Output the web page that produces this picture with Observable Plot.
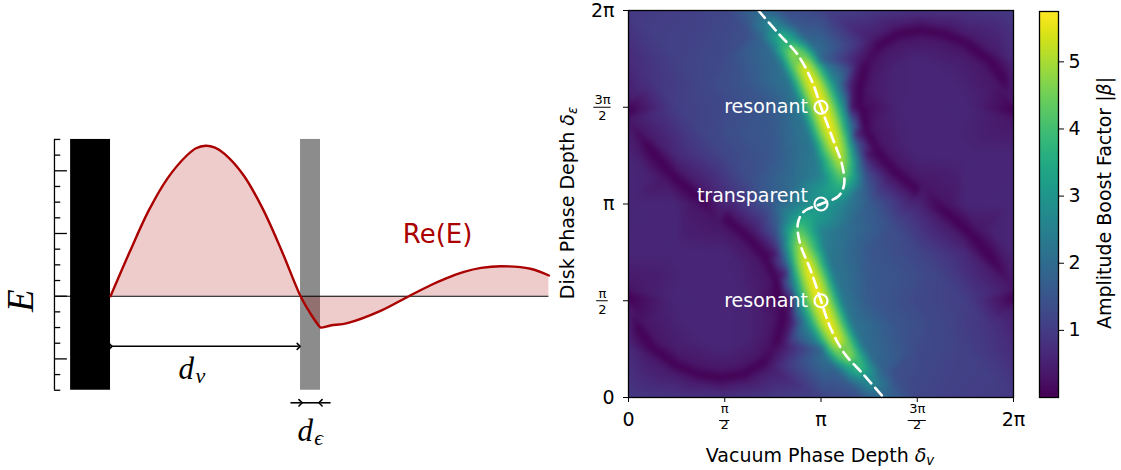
<!DOCTYPE html>
<html><head><meta charset="utf-8">
<script src="https://cdn.jsdelivr.net/npm/d3@7"></script>
<script src="https://cdn.jsdelivr.net/npm/@observablehq/plot@0.6"></script>
<style>
html,body{margin:0;padding:0;background:#fff;}
body{width:1121px;height:470px;position:relative;overflow:hidden;font-family:"DejaVu Sans",sans-serif;}
.abs{position:absolute;left:0;top:0;}
.lbl{position:absolute;font-size:19px;line-height:1;white-space:nowrap;color:#000;transform:translate(-50%,-50%);}
.rot{transform:translate(-50%,-50%) rotate(-90deg);}
.lbl sub{font-size:0.7em;line-height:0;vertical-align:-0.25em;font-style:italic;}
</style></head><body>
<div id="left" class="abs"></div>
<div id="heat" class="abs" style="left:548px"></div>
<div id="cbar" class="abs" style="left:1030px"></div>
<div class="lbl" style="left:820px;top:455px">Vacuum Phase Depth <i>δ</i><sub>v</sub></div>
<div class="lbl rot" style="left:567px;top:203px">Disk Phase Depth <i>δ</i><sub>ε</sub></div>
<div class="lbl rot" style="left:1104px;top:203px">Amplitude Boost Factor |<i>β</i>|</div>
<script>
// ---------------- left schematic: field Re(E) versus position ----------------
// x in units of the vacuum gap d_v (mirror surface at 0, disk front face at 1)
const waveX = [0,0.1,0.2,0.3,0.4,0.45,0.5,0.55,0.6,0.7,0.8,0.9,1.0,1.053,1.096,1.105,1.158,1.246,1.421,1.57,1.684,1.76,1.86,1.95,2.053,2.21,2.307];
const waveE = [0,0.70,1.36,1.88,2.24,2.36,2.40,2.37,2.27,1.93,1.40,0.73,0,-0.28,-0.47,-0.50,-0.467,-0.43,-0.235,0,0.175,0.277,0.387,0.451,0.478,0.437,0.33];
const mirrorSpan = [{x1:-0.21, x2:0, y1:-1.5, y2:2.5}];
const diskSpan = [{x1:1.0, x2:1.105, y1:-1.5, y2:2.5}];
const spineX = -0.295;
const eTicksMajor = [-1,0,1,2];
const eTicksMinor = [-1.5,-1.25,-0.75,-0.5,-0.25,0.25,0.5,0.75,1.25,1.5,1.75,2.25,2.5];
const waveEnd = 2.307;

// ---------------- right heat map: |beta| over (delta_v, delta_eps), both in units of pi ----------------
const gridU = [0,0.25,0.5,0.75,1,1.25,1.5,1.75,2];
const gridW = [2,1.75,1.5,1.25,1,0.75,0.5,0.25,0];
const gridVals = [
  [0.97,1.05,1.2 ,null,1.15,0.95,0.8 ,0.85,0.97],
  [0.7 ,1.1 ,1.3 ,null,1.8 ,0.15,0.6 ,0.45,0.7 ],
  [0.05,1.05,1.25,1.6 ,null,0.15,0.6 ,0.62,0.05],
  [0.6 ,0.65,1.2 ,1.55,null,0.05,0.6 ,0.62,0.6 ],
  [0.62,0.6 ,0.6 ,1.65,null,1.65,0.6 ,0.6 ,0.62],
  [0.6 ,0.62,0.6 ,0.05,null,1.55,1.2 ,0.65,0.6 ],
  [0.05,0.62,0.6 ,0.15,null,1.6 ,1.25,1.05,0.05],
  [0.7 ,0.45,0.6 ,0.15,1.8 ,null,1.3 ,1.1 ,0.7 ],
  [0.97,0.85,0.8 ,0.95,1.15,null,1.2 ,1.05,0.97]
];
// extra readings in the smooth regions either side of the ridge
const fieldPts = [
  [1.375,0.375,1.55],[1.625,0.375,1.2],[1.875,0.375,0.85],[1.375,0.625,1.5],[1.625,0.625,1.15],
  [1.375,0.125,1.4],[1.625,0.125,1.15],[1.875,0.125,1.05],[1.375,0.875,1.35],[1.125,0.875,2.1],
  [0.625,1.625,1.55],[0.375,1.625,1.2],[0.125,1.625,0.85],[0.625,1.375,1.5],[0.375,1.375,1.15],
  [0.625,1.875,1.4],[0.375,1.875,1.15],[0.125,1.875,1.05],[0.625,1.125,1.35],[0.875,1.125,2.1]
];
// dark troughs where |beta| ~ 0
const troughPts = [
  [0.00,1.48],[0.10,1.30],[0.22,1.16],[0.36,1.04],[0.50,0.93],[0.62,0.83],[0.71,0.73],[0.77,0.62],[0.80,0.50],[0.80,0.40],
  [0.77,0.29],[0.70,0.18],[0.60,0.12],[0.48,0.10],[0.36,0.12],[0.24,0.17],[0.13,0.25],[0.05,0.36],[0.00,0.52],
  [2.00,0.52],[1.90,0.70],[1.78,0.84],[1.64,0.96],[1.50,1.07],[1.38,1.17],[1.29,1.27],[1.23,1.38],[1.20,1.50],[1.20,1.60],
  [1.23,1.71],[1.30,1.82],[1.40,1.88],[1.52,1.90],[1.64,1.88],[1.76,1.83],[1.87,1.75],[1.95,1.64],[2.00,1.48]
];
// just inside the troughs (lobe side)
const rimInner = [
  [0.00,1.435],[0.063,1.275],[0.188,1.128],[0.331,1.005],[0.472,0.895],[0.589,0.797],[0.673,0.704],[0.728,0.604],[0.755,0.494],[0.755,0.406],
  [0.729,0.309],[0.668,0.212],[0.585,0.162],[0.48,0.145],[0.373,0.163],[0.262,0.209],[0.162,0.282],[0.09,0.38],[0.00,0.565],
  [2.00,0.565],[1.937,0.725],[1.812,0.872],[1.669,0.995],[1.528,1.105],[1.411,1.203],[1.327,1.296],[1.272,1.396],[1.245,1.506],[1.245,1.594],
  [1.271,1.691],[1.332,1.788],[1.415,1.838],[1.52,1.855],[1.627,1.837],[1.738,1.791],[1.838,1.718],[1.91,1.62],[2.00,1.435]
];
// just outside the troughs
const rimOuter = [
  [0.00,1.525],[0.137,1.325],[0.252,1.192],[0.389,1.075],[0.528,0.965],[0.651,0.863],[0.747,0.756],[0.812,0.636],[0.845,0.506],[0.845,0.394],
  [0.811,0.271],[0.732,0.148],[0.615,0.078],[0.48,0.055],[0.347,0.077],[0.218,0.131],[0.098,0.218],[0.01,0.34],[0.00,0.475],
  [2.00,0.475],[1.863,0.675],[1.748,0.808],[1.611,0.925],[1.472,1.035],[1.349,1.137],[1.253,1.244],[1.188,1.364],[1.155,1.494],[1.155,1.606],
  [1.189,1.729],[1.268,1.852],[1.385,1.922],[1.52,1.945],[1.653,1.923],[1.782,1.869],[1.902,1.782],[1.99,1.66],[2.00,1.525]
];
const rimInnerVal = 0.34;
const rimOuterVal = 0.42;
// inside the two dark lobes
const lobePts = [
  [0.45,0.5,0.6],[0.3,0.65,0.6],[0.15,0.85,0.6],[0.6,0.5,0.58],[0.35,0.3,0.58],[0.1,1.15,0.55],[0.55,0.7,0.58],[0.62,0.3,0.56],
  [1.55,1.5,0.6],[1.7,1.35,0.6],[1.85,1.15,0.6],[1.4,1.5,0.58],[1.65,1.7,0.58],[1.9,0.85,0.55],[1.45,1.3,0.58],[1.38,1.7,0.56]
];
// bright ridge, centre and flanks: [delta_v, delta_eps, |beta|]
const ridgePts = [
  [0.555,2,1.4],[0.625,2,1.8],[0.675,2,2.0],[0.725,2,1.8],[0.795,2,1.4],
  [0.62,1.93,1.55],[0.69,1.93,2.3],[0.74,1.93,2.8],[0.79,1.93,2.3],[0.86,1.93,1.6],
  [0.68,1.86,1.75],[0.75,1.86,3.1],[0.80,1.86,3.9],[0.85,1.86,3.2],[0.92,1.86,1.8],
  [0.74,1.79,2.0],[0.81,1.79,4.0],[0.86,1.79,4.9],[0.91,1.79,4.2],[0.98,1.79,2.1],
  [0.79,1.71,2.1],[0.86,1.71,4.5],[0.91,1.71,5.5],[0.96,1.71,4.7],[1.03,1.71,2.4],
  [0.835,1.62,2.2],[0.905,1.62,4.7],[0.955,1.62,5.7],[1.005,1.62,4.9],[1.075,1.62,2.6],
  [0.885,1.5,2.3],[0.955,1.5,4.8],[1.005,1.5,5.75],[1.055,1.5,4.9],[1.125,1.5,2.5],
  [0.92,1.4,2.3],[0.99,1.4,4.8],[1.04,1.4,5.75],[1.09,1.4,4.8],[1.16,1.4,2.0],
  [0.955,1.3,2.3],[1.025,1.3,4.6],[1.075,1.3,5.6],[1.125,1.3,4.5],[1.195,1.3,1.4],
  [0.98,1.22,2.4],[1.05,1.22,4.2],[1.10,1.22,5.2],[1.15,1.22,4.0],[1.22,1.22,1.3],
  [0.995,1.15,2.5],[1.065,1.15,3.8],[1.115,1.15,4.5],[1.165,1.15,3.4],[1.235,1.15,1.4],
  [0.98,1.08,2.9],[1.05,1.08,3.3],[1.10,1.08,3.6],[1.15,1.08,3.0],[1.22,1.08,1.8],
  [0.88,1,2.5],[0.95,1,2.9],[1.0,1,3.0],[1.05,1,2.9],[1.12,1,2.5],
  [1.02,0.92,2.9],[0.95,0.92,3.3],[0.90,0.92,3.6],[0.85,0.92,3.0],[0.78,0.92,1.8],
  [1.005,0.85,2.5],[0.935,0.85,3.8],[0.885,0.85,4.5],[0.835,0.85,3.4],[0.765,0.85,1.4],
  [1.02,0.78,2.4],[0.95,0.78,4.2],[0.90,0.78,5.2],[0.85,0.78,4.0],[0.78,0.78,1.3],
  [1.045,0.7,2.3],[0.975,0.7,4.6],[0.925,0.7,5.6],[0.875,0.7,4.5],[0.805,0.7,1.4],
  [1.08,0.6,2.3],[1.01,0.6,4.8],[0.96,0.6,5.75],[0.91,0.6,4.8],[0.84,0.6,2.0],
  [1.115,0.5,2.3],[1.045,0.5,4.8],[0.995,0.5,5.75],[0.945,0.5,4.9],[0.875,0.5,2.5],
  [1.165,0.38,2.2],[1.095,0.38,4.7],[1.045,0.38,5.7],[0.995,0.38,4.9],[0.925,0.38,2.6],
  [1.21,0.29,2.1],[1.14,0.29,4.5],[1.09,0.29,5.5],[1.04,0.29,4.7],[0.97,0.29,2.4],
  [1.26,0.21,2.0],[1.19,0.21,4.0],[1.14,0.21,4.9],[1.09,0.21,4.2],[1.02,0.21,2.1],
  [1.32,0.14,1.75],[1.25,0.14,3.1],[1.20,0.14,3.9],[1.15,0.14,3.2],[1.08,0.14,1.8],
  [1.38,0.07,1.55],[1.31,0.07,2.3],[1.26,0.07,2.8],[1.21,0.07,2.3],[1.14,0.07,1.6],
  [1.445,0,1.4],[1.375,0,1.8],[1.325,0,2.0],[1.275,0,1.8],[1.205,0,1.4]
];
// dashed optimum path
const locusU = [0.675,0.78,0.88,0.955,1.0,1.06,1.11,1.12,1.09,1.0,0.91,0.88,0.89,0.945,1.0,1.045,1.12,1.22,1.325];
const locusW = [2.0,1.88,1.77,1.63,1.5,1.34,1.2,1.1,1.04,1.0,0.96,0.9,0.8,0.66,0.5,0.37,0.23,0.12,0.0];
const markerU = [1,1,1];
const markerW = [1.5,1.0,0.5];
const markerLabel = ["resonant","transparent","resonant"];
const axisTicks = [0,0.5,1,1.5,2];
const axisWhole = {0:"0",1:"π",2:"2π"};
const fracVals = [0.5,1.5];
const fracNum = ["π","3π"];
const fracDen = ["2","2"];
const boostMax = 5.75;
const cbTicks = [1,2,3,4,5];

// ---------- build tables ----------
const wave = waveX.map((x,i)=>({x, e: waveE[i]}));
const samples = [];
gridW.forEach((w,r)=>gridU.forEach((u,c)=>{ const v = gridVals[r][c]; if (v!=null) samples.push({u,w,v}); }));
fieldPts.forEach(([u,w,v])=>samples.push({u,w,v}));
troughPts.forEach(([u,w])=>samples.push({u,w,v:0}));
rimInner.forEach(([u,w])=>samples.push({u,w,v:rimInnerVal}));
rimOuter.forEach(([u,w])=>samples.push({u,w,v:rimOuterVal}));
lobePts.forEach(([u,w,v])=>samples.push({u,w,v}));
ridgePts.forEach(([u,w,v])=>samples.push({u,w,v}));
const locus = locusU.map((u,i)=>({u, w: locusW[i]}));
const markers = markerU.map((u,i)=>({u, w: markerW[i], label: markerLabel[i]}));
const fracIdx = [0,1];

// ---------- left plot ----------
const serif = "Liberation Serif, DejaVu Serif, serif";
const left = Plot.plot({
  width: 560, height: 470, margin: 0,
  x: {domain: [-0.579, 2.368], axis: null},
  y: {domain: [-2.78, 4.716], axis: null},
  marks: [
    Plot.rect(mirrorSpan, {x1:"x1", x2:"x2", y1:"y1", y2:"y2", fill:"black"}),
    Plot.rect(diskSpan, {x1:"x1", x2:"x2", y1:"y1", y2:"y2", fill:"#8c8c8c"}),
    Plot.areaY(wave, {x:"x", y:"e", fill:"#aa0000", fillOpacity:0.2, curve:"catmull-rom"}),
    Plot.ruleY([0], {x1: spineX, x2: waveEnd, stroke:"black", strokeWidth:1.1}),
    Plot.line(wave, {x:"x", y:"e", stroke:"#aa0000", strokeWidth:2.4, curve:"catmull-rom"}),
    Plot.ruleX([spineX], {y1:-1.5, y2:2.5, stroke:"black", strokeWidth:1.3}),
    Plot.ruleY(eTicksMinor, {x1: spineX, x2: spineX + 0.033, stroke:"black", strokeWidth:1.3}),
    Plot.ruleY(eTicksMajor, {x1: spineX, x2: spineX + 0.068, stroke:"black", strokeWidth:1.3}),
    Plot.link([{a:0, b:0.99, y:-0.8}], {x1:"a", x2:"b", y1:"y", y2:"y", stroke:"black", strokeWidth:1.5, markerStart:"arrow", markerEnd:"arrow"}),
    Plot.link([{a:0.947, b:1.0, y:-1.70},{a:1.158, b:1.105, y:-1.70}], {x1:"a", x2:"b", y1:"y", y2:"y", stroke:"black", strokeWidth:1.6, markerEnd:"arrow"}),
    Plot.link([{a:1.0, b:1.105, y:-1.70}], {x1:"a", x2:"b", y1:"y", y2:"y", stroke:"black", strokeWidth:1.6}),
    Plot.text([{x:-0.471, y:-0.07, t:"E"}], {x:"x", y:"y", text:"t", rotate:-90, fontSize:37, fontStyle:"italic", fontFamily:serif}),
    Plot.text([{x:0.358, y:-1.16, t:"d"}], {x:"x", y:"y", text:"t", textAnchor:"start", fontSize:31, fontStyle:"italic", fontFamily:serif}),
    Plot.text([{x:0.447, y:-1.27, t:"v"}], {x:"x", y:"y", text:"t", textAnchor:"start", fontSize:22, fontStyle:"italic", fontFamily:serif}),
    Plot.text([{x:0.984, y:-2.15, t:"d"}], {x:"x", y:"y", text:"t", textAnchor:"start", fontSize:31, fontStyle:"italic", fontFamily:serif}),
    Plot.text([{x:1.072, y:-2.26, t:"ϵ"}], {x:"x", y:"y", text:"t", textAnchor:"start", fontSize:22, fontStyle:"italic", fontFamily:serif}),
    Plot.text([{x:1.721, y:0.98, t:"Re(E)"}], {x:"x", y:"y", text:"t", fontSize:26, fill:"#aa0000", fontFamily:"DejaVu Sans"})
  ]
});
document.getElementById("left").append(left);

// ---------- heat map ----------
const colorOpts = {type:"linear", scheme:"viridis", domain:[0, boostMax]};
const heat = Plot.plot({
  width: 480, height: 470,
  marginLeft: 80, marginRight: 15, marginTop: 10, marginBottom: 73,
  style: {fontFamily:"DejaVu Sans", fontSize:"19px", color:"black", background:"transparent"},
  x: {domain:[0,2], ticks: axisTicks, tickFormat: d => axisWhole[d] ?? "", tickSize:5, tickPadding:10, label:null},
  y: {domain:[0,2], ticks: axisTicks, tickFormat: d => axisWhole[d] ?? "", tickSize:5, tickPadding:9, label:null},
  color: colorOpts,
  marks: [
    Plot.raster(samples, {x:"u", y:"w", fill:"v", interpolate:"barycentric", blur:2, x1:0, y1:0, x2:2, y2:2}),
    Plot.line(locus, {x:"u", y:"w", stroke:"white", strokeWidth:2.6, strokeDasharray:"10,6", curve:"catmull-rom"}),
    Plot.dot(markers, {x:"u", y:"w", r:6.5, stroke:"white", strokeWidth:2.2, fill:"none"}),
    Plot.text(markers.filter(d=>d.label==="resonant"), {x:"u", y:"w", text:"label", textAnchor:"end", dx:-13, fill:"white", fontSize:19}),
    Plot.text(markers.filter(d=>d.label==="transparent"), {x:"u", y:"w", text:"label", textAnchor:"end", dx:-13, dy:-8, fill:"white", fontSize:19}),
    Plot.frame({stroke:"black", strokeWidth:1.3}),
    // stacked fraction tick labels (x axis)
    Plot.text(fracIdx, {x: i=>fracVals[i], frameAnchor:"bottom", textAnchor:"middle", dy:15, text: i=>fracNum[i], fontSize:13}),
    Plot.text(fracIdx, {x: i=>fracVals[i], frameAnchor:"bottom", textAnchor:"middle", dy:31, text: i=>fracDen[i], fontSize:13}),
    Plot.ruleY([0], {x1: fracVals[0]-0.027, x2: fracVals[0]+0.027, dy:23, stroke:"black", strokeWidth:1}),
    Plot.ruleY([0], {x1: fracVals[1]-0.047, x2: fracVals[1]+0.047, dy:23, stroke:"black", strokeWidth:1}),
    // stacked fraction tick labels (y axis)
    Plot.text(fracIdx, {y: i=>fracVals[i], frameAnchor:"left", textAnchor:"middle", dx:-26, dy:-7, text: i=>fracNum[i], fontSize:13}),
    Plot.text(fracIdx, {y: i=>fracVals[i], frameAnchor:"left", textAnchor:"middle", dx:-26, dy:9, text: i=>fracDen[i], fontSize:13}),
    Plot.ruleY([fracVals[0]], {x1: 0, x2: 0.06, dx:-31.8, stroke:"black", strokeWidth:1}),
    Plot.ruleY([fracVals[1]], {x1: 0, x2: 0.09, dx:-34.7, stroke:"black", strokeWidth:1})
  ]
});
document.getElementById("heat").append(heat);

// ---------- colour bar ----------
const cbar = Plot.plot({
  width: 91, height: 470,
  marginLeft: 9, marginRight: 63, marginTop: 11, marginBottom: 73,
  style: {fontFamily:"DejaVu Sans", fontSize:"19px", color:"black", background:"transparent"},
  x: {domain:[0,1], axis:null},
  y: {domain:[0, boostMax], axis:"right", ticks: cbTicks, tickFormat: d => String(d), tickSize:5, tickPadding:5, label:null},
  color: colorOpts,
  marks: [
    Plot.raster({x1:0, x2:1, y1:0, y2:boostMax, fill:(x,y)=>y}),
    Plot.frame({stroke:"black", strokeWidth:1.3})
  ]
});
document.getElementById("cbar").append(cbar);
</script>
</body></html>
